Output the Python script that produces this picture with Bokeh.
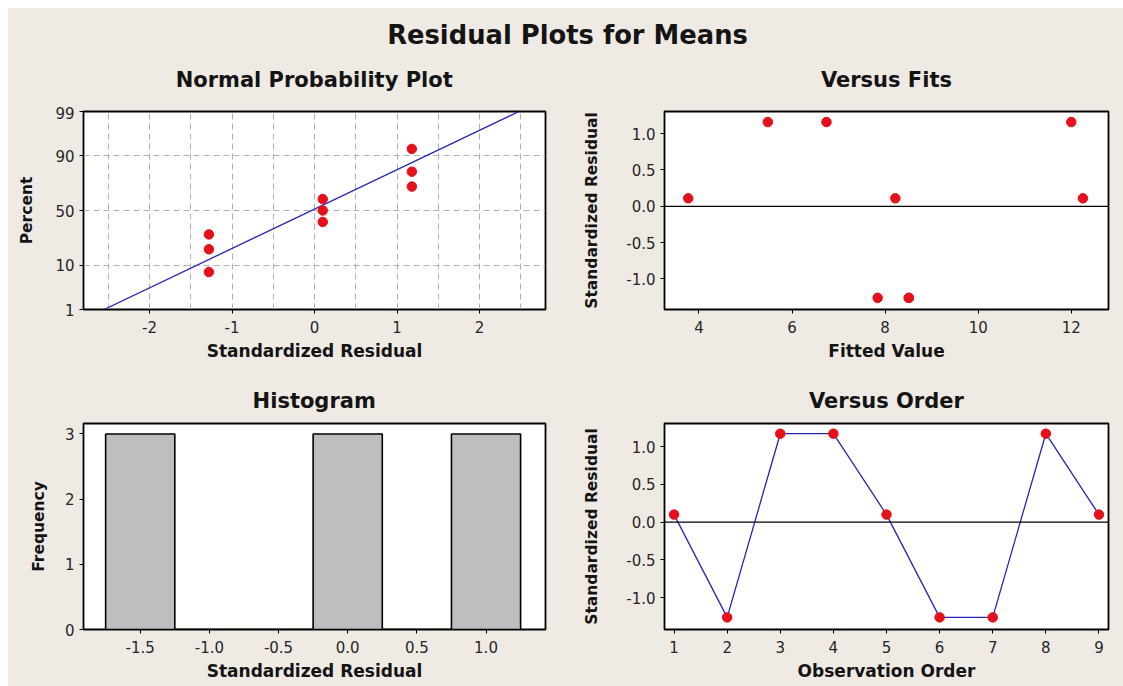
from statistics import NormalDist
from bokeh.plotting import figure
from bokeh.layouts import column, row
from bokeh.models import Range1d, FixedTicker, NumeralTickFormatter, Span, Label
from bokeh.embed import file_html
from bokeh.resources import INLINE

# ---------------- data ----------------
main_title = "Residual Plots for Means"
panel_titles = ["Normal Probability Plot", "Versus Fits", "Histogram", "Versus Order"]

# Normal probability plot
npp_resid = [-1.28, -1.28, -1.28, 0.10, 0.10, 0.10, 1.18, 1.18, 1.18]
npp_percent = [7.4, 18.1, 28.7, 39.4, 50.0, 60.6, 71.3, 81.9, 92.6]
npp_fit_x = [-2.55, 2.48]
npp_fit_percent = [1, 99]
npp_pct_ticks = [1, 10, 50, 90, 99]
npp_pct_grid = [10, 50, 90]
npp_x_ticks = [-2, -1, 0, 1, 2]
npp_x_grid = [-2.5, -2.0, -1.5, -1.0, -0.5, 0.0, 0.5, 1.0, 1.5, 2.0, 2.5]

# Versus fits
fitted_values = [3.77, 5.48, 6.74, 7.84, 8.22, 8.51, 8.51, 12.00, 12.25]
fits_resid = [0.11, 1.16, 1.16, -1.26, 0.11, -1.26, -1.26, 1.16, 0.11]
fits_x_ticks = [4, 6, 8, 10, 12]

# Histogram
hist_centers = [-1.5, -1.0, -0.5, 0.0, 0.5, 1.0]
hist_counts = [3, 0, 0, 3, 0, 3]
hist_bin_width = 0.5
hist_x_ticks = [-1.5, -1.0, -0.5, 0.0, 0.5, 1.0]
hist_y_ticks = [0, 1, 2, 3]

# Versus order
obs_order = [1, 2, 3, 4, 5, 6, 7, 8, 9]
order_resid = [0.10, -1.26, 1.17, 1.17, 0.10, -1.26, -1.26, 1.17, 0.10]

resid_y_ticks = [-1.0, -0.5, 0.0, 0.5, 1.0]

# ---------------- styling ----------------
BG = "#EFEBE4"
FONT = "DejaVu Sans"
RED = "#E5101A"
BLUE = "#2626B0"
TXT = "#141414"

nd = NormalDist()


def z(pct):
    return round(nd.inv_cdf(pct / 100.0), 6)


def strip(width, height):
    f = figure(width=width, height=height, x_range=Range1d(0, width), y_range=Range1d(0, height),
               toolbar_location=None, output_backend="svg", min_border=0,
               x_axis_location=None, y_axis_location=None)
    f.background_fill_color = BG
    f.border_fill_color = BG
    f.outline_line_color = None
    f.grid.visible = False
    return f


def add_text(f, x, y_from_top, text, size):
    f.add_layout(Label(x=x, y=f.height - y_from_top, text=text, text_align="center",
                       text_baseline="middle", text_font=FONT, text_font_size=size,
                       text_font_style="bold", text_color=TXT))


def make_fig(width, height, xr, yr, left, right, top, bottom, xlabel, ylabel, ylabel_standoff):
    p = figure(width=width, height=height, x_range=Range1d(*xr), y_range=Range1d(*yr),
               toolbar_location=None, output_backend="svg",
               min_border_left=left, min_border_right=right,
               min_border_top=top, min_border_bottom=bottom)
    p.background_fill_color = "white"
    p.border_fill_color = BG
    p.outline_line_color = "black"
    p.outline_line_width = 1.8
    p.xaxis.axis_label = xlabel
    p.yaxis.axis_label = ylabel
    for ax in p.axis:
        ax.axis_line_color = "black"
        ax.axis_line_width = 1
        ax.major_tick_line_color = "black"
        ax.major_tick_out = 4
        ax.major_tick_in = 0
        ax.minor_tick_line_color = None
        ax.major_label_text_font = FONT
        ax.major_label_text_font_size = "15px"
        ax.major_label_text_color = "#262626"
        ax.axis_label_text_font = FONT
        ax.axis_label_text_font_style = "bold"
        ax.axis_label_text_color = TXT
    p.xaxis.axis_label_text_font_size = "17px"
    p.yaxis.axis_label_text_font_size = "15.5px"
    p.xaxis.major_label_standoff = 7
    p.yaxis.major_label_standoff = 5
    p.xaxis.axis_label_standoff = 5
    p.yaxis.axis_label_standoff = ylabel_standoff
    p.grid.visible = False
    return p


# ---------------- title strips ----------------
top_strip = strip(1115, 98)
add_text(top_strip, 559, 26, main_title, "25.8px")
add_text(top_strip, 305.7, 71.6, panel_titles[0], "21px")
add_text(top_strip, 877.9, 71.6, panel_titles[1], "21px")

mid_strip = strip(1115, 48)
add_text(mid_strip, 305.7, 30, panel_titles[2], "21px")
add_text(mid_strip, 877.9, 30, panel_titles[3], "21px")

# ---------------- normal probability plot ----------------
p1 = make_fig(552, 264, (-2.8, 2.8), (z(1), z(99)), 75, 15, 5, 61,
              "Standardized Residual", "Percent", 16)
p1.xaxis.ticker = FixedTicker(ticks=npp_x_ticks)
p1.xaxis.formatter = NumeralTickFormatter(format="0")
p1.yaxis.ticker = FixedTicker(ticks=[z(v) for v in npp_pct_ticks])
p1.yaxis.major_label_overrides = {z(v): str(v) for v in npp_pct_ticks}
p1.grid.visible = True
p1.xgrid.ticker = FixedTicker(ticks=npp_x_grid)
p1.ygrid.ticker = FixedTicker(ticks=[z(v) for v in npp_pct_grid])
for g in (p1.xgrid, p1.ygrid):
    g.grid_line_color = "#AFAFAF"
    g.grid_line_dash = "6 4"
    g.grid_line_width = 1
p1.line(npp_fit_x, [z(v) for v in npp_fit_percent], line_color=BLUE, line_width=1.3)
p1.scatter(npp_resid, [z(v) for v in npp_percent], size=9.5, fill_color=RED, line_color=RED)

# ---------------- versus fits ----------------
p2 = make_fig(563, 264, (3.26, 12.8), (-1.42, 1.305), 104, 15, 5, 61,
              "Fitted Value", "Standardized Residual", 22)
p2.xaxis.ticker = FixedTicker(ticks=fits_x_ticks)
p2.xaxis.formatter = NumeralTickFormatter(format="0")
p2.yaxis.ticker = FixedTicker(ticks=resid_y_ticks)
p2.yaxis.formatter = NumeralTickFormatter(format="0.0")
p2.add_layout(Span(location=0, dimension="width", line_color="black", line_width=1.2))
p2.scatter(fitted_values, fits_resid, size=9.5, fill_color=RED, line_color=RED)

# ---------------- histogram ----------------
p3 = make_fig(552, 268, (-1.91, 1.43), (0, 3.16), 75, 15, 5, 57,
              "Standardized Residual", "Frequency", 14)
p3.xaxis.ticker = FixedTicker(ticks=hist_x_ticks)
p3.xaxis.formatter = NumeralTickFormatter(format="0.0")
p3.yaxis.ticker = FixedTicker(ticks=hist_y_ticks)
p3.yaxis.formatter = NumeralTickFormatter(format="0")
p3.quad(left=[c - hist_bin_width / 2 for c in hist_centers],
        right=[c + hist_bin_width / 2 for c in hist_centers],
        top=hist_counts, bottom=0,
        fill_color="#BEBEBE", line_color="black", line_width=1.6)

# ---------------- versus order ----------------
p4 = make_fig(563, 268, (0.82, 9.18), (-1.42, 1.305), 104, 15, 5, 57,
              "Observation Order", "Standardized Residual", 22)
p4.xaxis.ticker = FixedTicker(ticks=obs_order)
p4.yaxis.ticker = FixedTicker(ticks=resid_y_ticks)
p4.yaxis.formatter = NumeralTickFormatter(format="0.0")
p4.add_layout(Span(location=0, dimension="width", line_color="black", line_width=1.2))
p4.line(obs_order, order_resid, line_color=BLUE, line_width=1.3)
p4.scatter(obs_order, order_resid, size=9.5, fill_color=RED, line_color=RED)

r1 = row(p1, p2, styles={"background-color": BG})
r2 = row(p3, p4, styles={"background-color": BG})
layout = column(top_strip, r1, mid_strip, r2, styles={"background-color": BG}, margin=(8, 0, 0, 8))

open("out.html", "w").write(file_html(layout, INLINE))
